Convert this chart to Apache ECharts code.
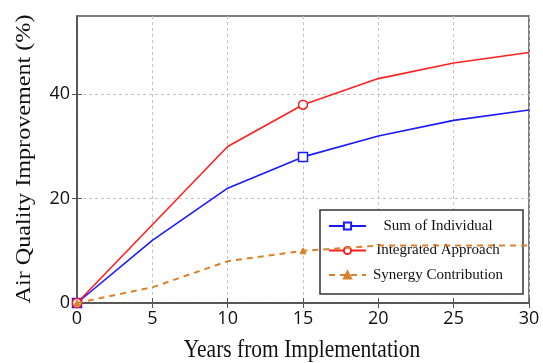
<!DOCTYPE html>
<html><head><meta charset="utf-8">
<script src="https://cdn.jsdelivr.net/npm/echarts@6/dist/echarts.min.js"></script>
<style>html,body{margin:0;padding:0;background:#fff}#c{width:543px;height:363px}</style>
</head><body><div id="c"></div>
<script>
const years = [0, 5, 10, 15, 20, 25, 30];
const sumIndividual = [0, 12, 22, 28, 32, 35, 37];
const integrated = [0, 15, 30, 38, 43, 46, 48];
const synergy = [0, 3, 8, 10, 11, 11, 11];
const yTicks = [0, 20, 40];
const markerIdx = [0, 3];
const seriesNames = ['Sum of Individual', 'Integrated Approach', 'Synergy Contribution'];
const xTitle = 'Years from Implementation';
const yTitle = 'Air Quality Improvement (%)';

function pts(vals) {
  return years.map((x, i) => markerIdx.includes(i) ? [x, vals[i]] : {value: [x, vals[i]], symbol: 'none'});
}
const chart = echarts.init(document.getElementById('c'), null, {renderer: 'canvas'});
const axisCol = '#555';
const gridLine = {show: true, lineStyle: {color: '#c4c4c4', type: [3, 3], width: 1}};
chart.setOption({
  animation: false,
  grid: {left: 77, right: 14, top: 16, bottom: 60, show: true, borderColor: axisCol, borderWidth: 1.5},
  xAxis: [{
    type: 'value', min: 0, max: 30, interval: 5, position: 'bottom',
    axisLine: {show: true, onZero: false, lineStyle: {color: axisCol, width: 1.5}},
    axisTick: {show: true, inside: true, length: 5, lineStyle: {color: axisCol}},
    axisLabel: {color: '#111', fontFamily: 'Open Sans', fontSize: 18, margin: 7},
    splitLine: gridLine
  }, {
    type: 'value', min: 0, max: 30, interval: 5, position: 'top',
    axisLine: {show: true, lineStyle: {color: axisCol, width: 1.5}},
    axisTick: {show: true, inside: true, length: 5, lineStyle: {color: axisCol}},
    axisLabel: {show: false}, splitLine: {show: false}
  }],
  yAxis: [{
    type: 'value', min: 0, max: 55, interval: 20, position: 'left',
    axisLine: {show: true, onZero: false, lineStyle: {color: axisCol, width: 1.5}},
    axisTick: {show: true, inside: true, length: 5, customValues: yTicks, lineStyle: {color: axisCol}},
    axisLabel: {color: '#111', fontFamily: 'Open Sans', fontSize: 18, margin: 7, customValues: yTicks},
    splitLine: gridLine
  }, {
    type: 'value', min: 0, max: 55, interval: 20, position: 'right',
    axisLine: {show: true, lineStyle: {color: axisCol, width: 1.5}},
    axisTick: {show: true, inside: true, length: 5, customValues: yTicks, lineStyle: {color: axisCol}},
    axisLabel: {show: false}, splitLine: {show: false}
  }],
  legend: {
    orient: 'vertical', left: 320, top: 210,
    padding: [8.5, 18, 11.5, 8],
    itemWidth: 37, itemHeight: 9, itemGap: 9.5, itemTextGap: 8,
    backgroundColor: '#fff', borderColor: '#333', borderWidth: 1.5,
    data: seriesNames,
    formatter: n => '{a|' + n + '}',
    textStyle: {rich: {a: {width: 134, height: 9, lineHeight: 9, align: 'center', verticalAlign: 'middle', fontFamily: 'Liberation Serif', fontSize: 15, color: '#111'}}}
  },
  series: [{
    name: seriesNames[0], type: 'line', data: pts(sumIndividual),
    symbol: 'rect', symbolSize: 9,
    lineStyle: {color: '#1a1aff', width: 1.6},
    itemStyle: {color: '#fff', borderColor: '#1a1aff', borderWidth: 1.5},
    z: 3
  }, {
    name: seriesNames[1], type: 'line', data: pts(integrated),
    symbol: 'circle', symbolSize: 9,
    lineStyle: {color: '#ff2020', width: 1.6},
    itemStyle: {color: '#fff', borderColor: '#ff2020', borderWidth: 1.5},
    z: 4
  }, {
    name: seriesNames[2], type: 'line', data: pts(synergy),
    symbol: 'triangle', symbolSize: 6,
    lineStyle: {color: '#d9822b', width: 2, type: [6, 5]},
    itemStyle: {color: '#d9822b', borderColor: '#d9822b', borderWidth: 1},
    z: 5
  }],
  graphic: [{
    type: 'text', x: 302, y: 351, scaleY: 1.15,
    style: {text: xTitle, fontFamily: 'Liberation Serif', fontSize: 21.5, fill: '#111', align: 'center', verticalAlign: 'middle'}
  }, {
    type: 'text', x: 24, y: 159, rotation: Math.PI / 2, scaleX: 1.15,
    style: {text: yTitle, fontFamily: 'Liberation Serif', fontSize: 21, fill: '#111', align: 'center', verticalAlign: 'middle'}
  }]
});
</script></body></html>
